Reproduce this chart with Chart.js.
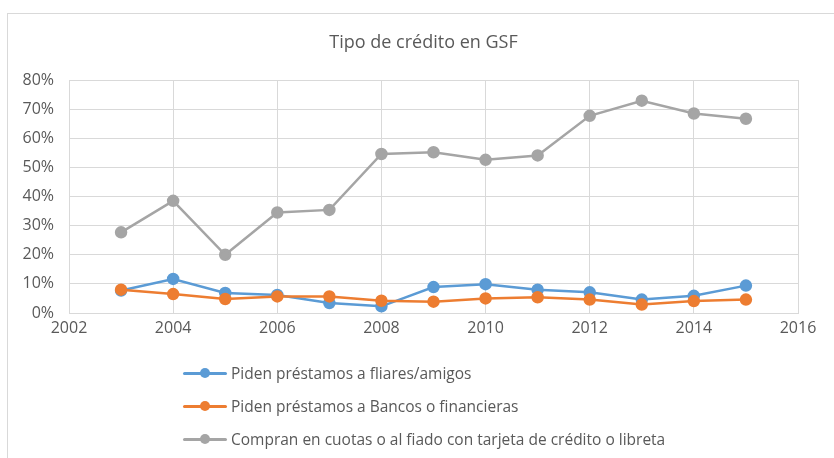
<!DOCTYPE html>
<html>
<head>
<meta charset="utf-8">
<script src="https://cdn.jsdelivr.net/npm/chart.js@4"></script>
<style>
  html, body { margin: 0; padding: 0; background: #fff; }
  #wrap { position: relative; width: 834px; height: 458px; overflow: hidden; }
  #marco { position: absolute; left: 7px; top: 13px; width: 840px; height: 460px;
           border-top: 1px solid #d9d9d9; border-left: 1px solid #d9d9d9; pointer-events: none; }
  #titulo { position: absolute; left: 7px; width: 833px; top: 29px; text-align: center;
            font-family: "Open Sans", sans-serif; font-size: 18px; color: #595959; }
  #leyenda { position: absolute; left: 183px; top: 361px; font-family: "Open Sans", sans-serif;
             font-size: 15.5px; color: #595959; }
  .item { height: 33px; display: flex; align-items: flex-start; }
  .marca { position: relative; width: 44px; height: 24px; margin-right: 4px; }
  .marca .linea { position: absolute; left: 0; right: 0; top: 11px; height: 3px; border-radius: 2px; }
  .marca .punto { position: absolute; left: 17px; top: 7px; width: 10px; height: 10px; border-radius: 50%; }
  .item span { line-height: 24px; }
</style>
</head>
<body>
<div id="wrap">
  <canvas id="grafico" width="834" height="458"></canvas>
  <div id="marco"></div>
  <div id="titulo">Tipo de crédito en GSF</div>
  <div id="leyenda"></div>
</div>
<script>
// Datos del gráfico
const anios = [2003, 2004, 2005, 2006, 2007, 2008, 2009, 2010, 2011, 2012, 2013, 2014, 2015];
const familiaresAmigos = [7.7, 11.7, 6.9, 6.2, 3.4, 2.3, 8.9, 9.9, 8.0, 7.1, 4.6, 5.9, 9.4];
const bancosFinancieras = [8.0, 6.5, 4.8, 5.7, 5.7, 4.2, 3.9, 5.0, 5.4, 4.6, 2.9, 4.1, 4.6];
const cuotasFiado = [27.7, 38.5, 20.0, 34.5, 35.4, 54.6, 55.2, 52.6, 54.1, 67.7, 72.9, 68.5, 66.7];
const nombresSeries = [
  "Piden préstamos a fliares/amigos",
  "Piden préstamos a Bancos o financieras",
  "Compran en cuotas o al fiado con tarjeta de crédito o libreta"
];
const coloresSeries = ["#5b9bd5", "#ed7d31", "#a5a5a5"];

const gris = "#595959";
const grilla = "#d9d9d9";

function puntos(valores) {
  return anios.map((a, i) => ({ x: a, y: valores[i] }));
}

function serie(i, valores, orden) {
  return {
    label: nombresSeries[i],
    data: puntos(valores),
    borderColor: coloresSeries[i],
    backgroundColor: coloresSeries[i],
    pointBackgroundColor: coloresSeries[i],
    pointBorderColor: coloresSeries[i],
    borderWidth: 2.5,
    pointRadius: 5,
    pointHoverRadius: 5,
    tension: 0,
    order: orden
  };
}

const ctx = document.getElementById("grafico").getContext("2d");
const grafico = new Chart(ctx, {
  type: "line",
  data: {
    datasets: [
      serie(0, familiaresAmigos, 3),
      serie(1, bancosFinancieras, 2),
      serie(2, cuotasFiado, 1)
    ]
  },
  options: {
    responsive: false,
    animation: false,
    layout: { padding: { left: 0, right: 36, top: 80, bottom: 0 } },
    plugins: {
      legend: { display: false },
      tooltip: { enabled: false },
      title: { display: false }
    },
    scales: {
      x: {
        type: "linear",
        min: 2002,
        max: 2016,
        ticks: {
          stepSize: 2,
          color: gris,
          font: { family: "Open Sans", size: 16 },
          padding: 6,
          maxRotation: 0,
          callback: (v) => String(v)
        },
        grid: { color: grilla, drawTicks: false },
        border: { color: grilla },
        afterFit: (s) => { s.height = 145; }
      },
      y: {
        min: 0,
        max: 80,
        ticks: {
          stepSize: 10,
          color: gris,
          font: { family: "Open Sans", size: 16 },
          padding: 15,
          callback: (v) => v + "%"
        },
        grid: { color: grilla, drawTicks: false },
        border: { color: grilla },
        afterFit: (s) => { s.width = 69; }
      }
    }
  }
});

// Leyenda vertical en HTML
const leyenda = document.getElementById("leyenda");
nombresSeries.forEach((nombre, i) => {
  const fila = document.createElement("div");
  fila.className = "item";
  fila.innerHTML =
    '<div class="marca"><div class="linea" style="background:' + coloresSeries[i] + '"></div>' +
    '<div class="punto" style="background:' + coloresSeries[i] + '"></div></div>' +
    "<span>" + nombre + "</span>";
  leyenda.appendChild(fila);
});
</script>
</body>
</html>
